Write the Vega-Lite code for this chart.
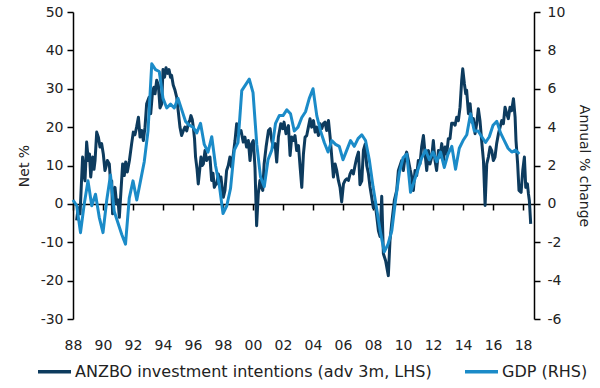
{
  "$schema": "https://vega.github.io/schema/vega-lite/v6.json",
  "width": 461,
  "height": 307,
  "autosize": {"type": "none"},
  "padding": {"left": 73, "top": 12, "right": 66, "bottom": 69},
  "background": "white",
  "config": {
    "font": "DejaVu Sans",
    "view": {"stroke": null},
    "axis": {
      "labelFont": "DejaVu Sans",
      "titleFont": "DejaVu Sans",
      "labelColor": "#222222",
      "titleColor": "#222222",
      "domainColor": "#000000",
      "tickColor": "#000000",
      "grid": false,
      "labelFontSize": 14,
      "titleFontSize": 14,
      "titleFontWeight": "normal",
      "domainWidth": 1.5,
      "tickWidth": 1.5
    }
  },
  "datasets": {
    "anzbo": [
      {"t": 1988.24, "v": -4.3}, {"t": 1988.35, "v": -1}, {"t": 1988.47, "v": -2.6}, {"t": 1988.64, "v": 12.2},
      {"t": 1988.72, "v": 8}, {"t": 1988.8, "v": 6}, {"t": 1988.91, "v": 16.1}, {"t": 1989.02, "v": 11.3},
      {"t": 1989.1, "v": 13}, {"t": 1989.18, "v": 7}, {"t": 1989.31, "v": 12.2}, {"t": 1989.4, "v": 9},
      {"t": 1989.47, "v": 11.3}, {"t": 1989.58, "v": 18.7}, {"t": 1989.69, "v": 17.4}, {"t": 1989.8, "v": 14.8},
      {"t": 1989.91, "v": 15.7}, {"t": 1990.02, "v": 13}, {"t": 1990.13, "v": 8.7}, {"t": 1990.22, "v": 10},
      {"t": 1990.29, "v": 11.3}, {"t": 1990.42, "v": 10.4}, {"t": 1990.51, "v": 5.2}, {"t": 1990.58, "v": 6},
      {"t": 1990.64, "v": -2.6}, {"t": 1990.72, "v": 2}, {"t": 1990.8, "v": 4.3}, {"t": 1990.91, "v": 0},
      {"t": 1991.0, "v": 1}, {"t": 1991.09, "v": -3.5}, {"t": 1991.2, "v": 3.5}, {"t": 1991.31, "v": 10.4},
      {"t": 1991.42, "v": 7.4}, {"t": 1991.51, "v": 10.9}, {"t": 1991.62, "v": 8.3}, {"t": 1991.76, "v": 11.3},
      {"t": 1991.91, "v": 15.7}, {"t": 1992.02, "v": 18.7}, {"t": 1992.13, "v": 18}, {"t": 1992.24, "v": 20},
      {"t": 1992.36, "v": 22.6}, {"t": 1992.47, "v": 17.4}, {"t": 1992.58, "v": 19.1}, {"t": 1992.69, "v": 16.5},
      {"t": 1992.8, "v": 20}, {"t": 1992.91, "v": 26.1}, {"t": 1993.07, "v": 27.8}, {"t": 1993.18, "v": 23.5},
      {"t": 1993.31, "v": 29.6}, {"t": 1993.4, "v": 30.4}, {"t": 1993.47, "v": 28.7}, {"t": 1993.58, "v": 32.2},
      {"t": 1993.69, "v": 31}, {"t": 1993.8, "v": 25}, {"t": 1993.91, "v": 26}, {"t": 1994.0, "v": 35},
      {"t": 1994.1, "v": 33}, {"t": 1994.2, "v": 35.5}, {"t": 1994.3, "v": 34}, {"t": 1994.4, "v": 35},
      {"t": 1994.5, "v": 33}, {"t": 1994.57, "v": 33.5}, {"t": 1994.68, "v": 31}, {"t": 1994.8, "v": 29.6},
      {"t": 1994.91, "v": 27.8}, {"t": 1995.02, "v": 24}, {"t": 1995.13, "v": 20}, {"t": 1995.24, "v": 17.8},
      {"t": 1995.35, "v": 19}, {"t": 1995.46, "v": 20}, {"t": 1995.58, "v": 19}, {"t": 1995.69, "v": 20.9},
      {"t": 1995.8, "v": 22}, {"t": 1995.86, "v": 23}, {"t": 1995.95, "v": 22}, {"t": 1996.02, "v": 20},
      {"t": 1996.1, "v": 17}, {"t": 1996.17, "v": 12.2}, {"t": 1996.27, "v": 9}, {"t": 1996.35, "v": 5.2},
      {"t": 1996.45, "v": 9}, {"t": 1996.53, "v": 12.2}, {"t": 1996.62, "v": 10}, {"t": 1996.69, "v": 10.4},
      {"t": 1996.8, "v": 13.9}, {"t": 1996.91, "v": 11.3}, {"t": 1997.02, "v": 12}, {"t": 1997.13, "v": 12.2},
      {"t": 1997.24, "v": 6.1}, {"t": 1997.33, "v": 8}, {"t": 1997.42, "v": 4.3}, {"t": 1997.5, "v": 5},
      {"t": 1997.57, "v": 5.2}, {"t": 1997.69, "v": 7.8}, {"t": 1997.78, "v": 6}, {"t": 1997.86, "v": 7},
      {"t": 1998.02, "v": 1.7}, {"t": 1998.13, "v": 3.5}, {"t": 1998.24, "v": 8.7}, {"t": 1998.35, "v": 10},
      {"t": 1998.46, "v": 12.2}, {"t": 1998.57, "v": 9.6}, {"t": 1998.69, "v": 13}, {"t": 1998.8, "v": 16.5},
      {"t": 1998.91, "v": 20.9}, {"t": 1999.0, "v": 19}, {"t": 1999.06, "v": 18.3}, {"t": 1999.2, "v": 19.1},
      {"t": 1999.35, "v": 16.1}, {"t": 1999.46, "v": 17.4}, {"t": 1999.57, "v": 14.8}, {"t": 1999.69, "v": 16.5},
      {"t": 1999.8, "v": 11.3}, {"t": 1999.91, "v": 15.7}, {"t": 2000.02, "v": 16.5}, {"t": 2000.13, "v": 9.6},
      {"t": 2000.24, "v": -5.7}, {"t": 2000.35, "v": 2.6}, {"t": 2000.46, "v": 6.1}, {"t": 2000.57, "v": 4.3},
      {"t": 2000.65, "v": 3.5}, {"t": 2000.74, "v": 10.4}, {"t": 2000.87, "v": 14.8}, {"t": 2001.03, "v": 19.1},
      {"t": 2001.14, "v": 19.6}, {"t": 2001.25, "v": 16.5}, {"t": 2001.36, "v": 14.8}, {"t": 2001.47, "v": 15.7},
      {"t": 2001.58, "v": 10.9}, {"t": 2001.69, "v": 17.4}, {"t": 2001.85, "v": 20.9}, {"t": 2001.98, "v": 19.6},
      {"t": 2002.07, "v": 21.3}, {"t": 2002.2, "v": 18.3}, {"t": 2002.36, "v": 20.4}, {"t": 2002.47, "v": 12.6},
      {"t": 2002.58, "v": 17.4}, {"t": 2002.69, "v": 16.5}, {"t": 2002.8, "v": 17.8}, {"t": 2002.91, "v": 13.9},
      {"t": 2003.03, "v": 15.2}, {"t": 2003.14, "v": 9.6}, {"t": 2003.25, "v": 4.3}, {"t": 2003.36, "v": 13},
      {"t": 2003.47, "v": 17.4}, {"t": 2003.58, "v": 17.8}, {"t": 2003.69, "v": 20}, {"t": 2003.8, "v": 22.2},
      {"t": 2003.91, "v": 20}, {"t": 2004.03, "v": 21.7}, {"t": 2004.14, "v": 18.7}, {"t": 2004.25, "v": 20},
      {"t": 2004.36, "v": 17.8}, {"t": 2004.47, "v": 20.9}, {"t": 2004.58, "v": 19.6}, {"t": 2004.69, "v": 20.9},
      {"t": 2004.8, "v": 21.3}, {"t": 2004.91, "v": 19.1}, {"t": 2005.03, "v": 21.7}, {"t": 2005.14, "v": 17.4},
      {"t": 2005.25, "v": 12.2}, {"t": 2005.36, "v": 7}, {"t": 2005.47, "v": 10.4}, {"t": 2005.58, "v": 8.7},
      {"t": 2005.69, "v": 6.1}, {"t": 2005.8, "v": 4.3}, {"t": 2005.91, "v": 0.5}, {"t": 2006.03, "v": 5.2},
      {"t": 2006.14, "v": 6.1}, {"t": 2006.25, "v": 6.5}, {"t": 2006.36, "v": 6.1}, {"t": 2006.47, "v": 7.8},
      {"t": 2006.58, "v": 8.7}, {"t": 2006.69, "v": 7.8}, {"t": 2006.8, "v": 10}, {"t": 2006.91, "v": 12},
      {"t": 2007.03, "v": 13.5}, {"t": 2007.13, "v": 5}, {"t": 2007.25, "v": 6}, {"t": 2007.36, "v": 14},
      {"t": 2007.47, "v": 15.5}, {"t": 2007.58, "v": 10}, {"t": 2007.69, "v": 8}, {"t": 2007.8, "v": 4.4},
      {"t": 2007.9, "v": 2}, {"t": 2008.02, "v": -1}, {"t": 2008.13, "v": 0.5}, {"t": 2008.24, "v": -3},
      {"t": 2008.36, "v": -7}, {"t": 2008.47, "v": -8.5}, {"t": 2008.58, "v": 2}, {"t": 2008.69, "v": -13},
      {"t": 2008.84, "v": -14.8}, {"t": 2009.02, "v": -18.7}, {"t": 2009.13, "v": -9.6}, {"t": 2009.24, "v": -5.2},
      {"t": 2009.42, "v": 0.9}, {"t": 2009.58, "v": 3.5}, {"t": 2009.69, "v": 8.7}, {"t": 2009.91, "v": 11.3},
      {"t": 2010.02, "v": 8.7}, {"t": 2010.13, "v": 12}, {"t": 2010.24, "v": 13.5}, {"t": 2010.36, "v": 11.3},
      {"t": 2010.47, "v": 9}, {"t": 2010.58, "v": 7}, {"t": 2010.69, "v": 3.5}, {"t": 2010.8, "v": 8.7},
      {"t": 2010.91, "v": 7.4}, {"t": 2011.02, "v": 11.3}, {"t": 2011.13, "v": 10.4}, {"t": 2011.24, "v": 14.8},
      {"t": 2011.36, "v": 17.8}, {"t": 2011.47, "v": 13}, {"t": 2011.58, "v": 8.7}, {"t": 2011.69, "v": 13.9},
      {"t": 2011.8, "v": 10.4}, {"t": 2011.91, "v": 12.2}, {"t": 2012.02, "v": 16.5}, {"t": 2012.13, "v": 11.3},
      {"t": 2012.24, "v": 8.7}, {"t": 2012.36, "v": 13.9}, {"t": 2012.47, "v": 12.2}, {"t": 2012.58, "v": 15.7},
      {"t": 2012.69, "v": 11.3}, {"t": 2012.8, "v": 14.8}, {"t": 2012.91, "v": 13}, {"t": 2013.02, "v": 17},
      {"t": 2013.13, "v": 17}, {"t": 2013.24, "v": 21}, {"t": 2013.36, "v": 21}, {"t": 2013.47, "v": 20.5},
      {"t": 2013.58, "v": 22.6}, {"t": 2013.69, "v": 21.7}, {"t": 2013.8, "v": 25.2}, {"t": 2013.91, "v": 32.2},
      {"t": 2013.98, "v": 35.2}, {"t": 2014.09, "v": 31.3}, {"t": 2014.18, "v": 28.7}, {"t": 2014.24, "v": 29.6},
      {"t": 2014.36, "v": 23.5}, {"t": 2014.47, "v": 26.1}, {"t": 2014.58, "v": 21.3}, {"t": 2014.69, "v": 22.2},
      {"t": 2014.8, "v": 18.3}, {"t": 2014.91, "v": 20.9}, {"t": 2015.02, "v": 24.8}, {"t": 2015.13, "v": 21.7},
      {"t": 2015.24, "v": 16.5}, {"t": 2015.36, "v": 11.3}, {"t": 2015.47, "v": -0.4}, {"t": 2015.58, "v": 10.4},
      {"t": 2015.69, "v": 12.2}, {"t": 2015.8, "v": 14.8}, {"t": 2015.91, "v": 13.9}, {"t": 2016.02, "v": 11.3},
      {"t": 2016.13, "v": 12.2}, {"t": 2016.24, "v": 15.7}, {"t": 2016.36, "v": 18.3}, {"t": 2016.47, "v": 20},
      {"t": 2016.58, "v": 21.7}, {"t": 2016.69, "v": 20.9}, {"t": 2016.8, "v": 25.2}, {"t": 2016.91, "v": 23.5},
      {"t": 2017.02, "v": 22.2}, {"t": 2017.13, "v": 25.2}, {"t": 2017.24, "v": 24.3}, {"t": 2017.36, "v": 27.4},
      {"t": 2017.47, "v": 22.6}, {"t": 2017.53, "v": 16.5}, {"t": 2017.64, "v": 10.4}, {"t": 2017.73, "v": 3.5},
      {"t": 2017.87, "v": 3}, {"t": 2017.98, "v": 8.7}, {"t": 2018.09, "v": 12.2}, {"t": 2018.18, "v": 4.3},
      {"t": 2018.29, "v": 5.2}, {"t": 2018.36, "v": 2.6}, {"t": 2018.42, "v": 0.9}, {"t": 2018.51, "v": -5.2}
    ],
    "gdp": [
      {"t": 1988.0, "v": 0.2}, {"t": 1988.25, "v": -0.1}, {"t": 1988.5, "v": -1.5}, {"t": 1988.75, "v": 0.0},
      {"t": 1989.0, "v": 1.2}, {"t": 1989.25, "v": -0.1}, {"t": 1989.5, "v": 0.5}, {"t": 1989.75, "v": -0.7},
      {"t": 1990.0, "v": -1.5}, {"t": 1990.25, "v": 0.2}, {"t": 1990.5, "v": 1.5}, {"t": 1990.75, "v": -0.4},
      {"t": 1991.0, "v": -1.0}, {"t": 1991.25, "v": -1.6}, {"t": 1991.5, "v": -2.1}, {"t": 1991.75, "v": 0.3},
      {"t": 1992.0, "v": 1.2}, {"t": 1992.25, "v": 0.2}, {"t": 1992.5, "v": 1.2}, {"t": 1992.75, "v": 2.2},
      {"t": 1993.0, "v": 3.8}, {"t": 1993.25, "v": 7.3}, {"t": 1993.5, "v": 7.0}, {"t": 1993.75, "v": 6.9},
      {"t": 1994.0, "v": 5.5}, {"t": 1994.25, "v": 5.0}, {"t": 1994.5, "v": 5.2}, {"t": 1994.75, "v": 5.0},
      {"t": 1995.0, "v": 5.5}, {"t": 1995.25, "v": 4.9}, {"t": 1995.5, "v": 4.3}, {"t": 1995.75, "v": 4.1},
      {"t": 1996.0, "v": 4.0}, {"t": 1996.25, "v": 3.7}, {"t": 1996.5, "v": 4.2}, {"t": 1996.75, "v": 3.1},
      {"t": 1997.0, "v": 2.7}, {"t": 1997.25, "v": 3.5}, {"t": 1997.5, "v": 2.0}, {"t": 1997.75, "v": 1.0},
      {"t": 1998.0, "v": -0.5}, {"t": 1998.25, "v": -0.1}, {"t": 1998.5, "v": 0.8}, {"t": 1998.75, "v": 2.8},
      {"t": 1999.0, "v": 3.2}, {"t": 1999.25, "v": 5.9}, {"t": 1999.5, "v": 6.2}, {"t": 1999.75, "v": 6.5},
      {"t": 2000.0, "v": 5.8}, {"t": 2000.25, "v": 3.1}, {"t": 2000.5, "v": 1.4}, {"t": 2000.75, "v": 0.9},
      {"t": 2001.0, "v": 2.3}, {"t": 2001.25, "v": 2.8}, {"t": 2001.5, "v": 4.2}, {"t": 2001.75, "v": 4.6},
      {"t": 2002.0, "v": 4.6}, {"t": 2002.25, "v": 4.9}, {"t": 2002.5, "v": 4.7}, {"t": 2002.75, "v": 3.8},
      {"t": 2003.0, "v": 4.0}, {"t": 2003.25, "v": 4.5}, {"t": 2003.5, "v": 4.8}, {"t": 2003.75, "v": 5.5},
      {"t": 2004.0, "v": 6.0}, {"t": 2004.25, "v": 4.6}, {"t": 2004.5, "v": 3.8}, {"t": 2004.75, "v": 3.2},
      {"t": 2005.0, "v": 2.7}, {"t": 2005.25, "v": 3.3}, {"t": 2005.5, "v": 3.1}, {"t": 2005.75, "v": 3.0},
      {"t": 2006.0, "v": 2.3}, {"t": 2006.25, "v": 2.8}, {"t": 2006.5, "v": 3.3}, {"t": 2006.75, "v": 3.0},
      {"t": 2007.0, "v": 3.4}, {"t": 2007.25, "v": 3.6}, {"t": 2007.5, "v": 3.3}, {"t": 2007.75, "v": 2.3},
      {"t": 2008.0, "v": 0.9}, {"t": 2008.25, "v": -0.3}, {"t": 2008.5, "v": -1.5}, {"t": 2008.75, "v": -2.5},
      {"t": 2009.0, "v": -2.1}, {"t": 2009.25, "v": -1.4}, {"t": 2009.5, "v": 0.2}, {"t": 2009.75, "v": 1.6},
      {"t": 2010.0, "v": 2.4}, {"t": 2010.25, "v": 2.6}, {"t": 2010.5, "v": 0.6}, {"t": 2010.75, "v": 1.2},
      {"t": 2011.0, "v": 1.8}, {"t": 2011.25, "v": 2.4}, {"t": 2011.5, "v": 2.8}, {"t": 2011.75, "v": 2.3},
      {"t": 2012.0, "v": 2.7}, {"t": 2012.25, "v": 2.2}, {"t": 2012.5, "v": 2.7}, {"t": 2012.75, "v": 1.9},
      {"t": 2013.0, "v": 2.6}, {"t": 2013.25, "v": 3.0}, {"t": 2013.5, "v": 1.8}, {"t": 2013.75, "v": 2.9},
      {"t": 2014.0, "v": 3.3}, {"t": 2014.25, "v": 3.6}, {"t": 2014.5, "v": 4.7}, {"t": 2014.75, "v": 3.8},
      {"t": 2015.0, "v": 3.8}, {"t": 2015.25, "v": 3.5}, {"t": 2015.5, "v": 3.2}, {"t": 2015.75, "v": 3.5},
      {"t": 2016.0, "v": 4.1}, {"t": 2016.25, "v": 4.3}, {"t": 2016.5, "v": 3.7}, {"t": 2016.75, "v": 3.3},
      {"t": 2017.0, "v": 2.9}, {"t": 2017.25, "v": 2.7}, {"t": 2017.5, "v": 2.8}, {"t": 2017.75, "v": 2.6}
    ]
  },
  "layer": [
    {
      "data": {"name": "anzbo"},
      "mark": {"type": "line", "strokeWidth": 3, "strokeJoin": "round"},
      "encoding": {
        "x": {
          "field": "t", "type": "quantitative",
          "scale": {"domain": [1988, 2018.73], "nice": false, "zero": false},
          "axis": {
            "orient": "bottom",
            "values": [1988, 1990, 1992, 1994, 1996, 1998, 2000, 2002, 2004, 2006, 2008, 2010, 2012, 2014, 2016, 2018],
            "labelExpr": "slice(toString(datum.value), 2)",
            "domain": false, "ticks": false, "labelPadding": 19, "title": null,
            "labelFontSize": 14, "labelFlush": false, "labelOverlap": false
          }
        },
        "y": {
          "field": "v", "type": "quantitative",
          "scale": {"domain": [-30, 50], "nice": false, "zero": false},
          "axis": {
            "orient": "left",
            "values": [-30, -20, -10, 0, 10, 20, 30, 40, 50],
            "labelExpr": "toString(datum.value)",
            "title": "Net %", "tickSize": 6, "labelPadding": 4, "titlePadding": 9
          }
        },
        "color": {
          "datum": "ANZBO investment intentions (adv 3m, LHS)", "type": "nominal",
          "scale": {
            "domain": ["ANZBO investment intentions (adv 3m, LHS)", "GDP (RHS)"],
            "range": ["#0d3b5e", "#1b8bc8"]
          },
          "legend": {
            "orient": "none", "legendX": -37, "legendY": 341, "direction": "horizontal",
            "title": null, "symbolType": "stroke", "symbolSize": 1089, "symbolStrokeWidth": 3.5,
            "labelFontSize": 16, "labelOffset": 2, "columnPadding": 26, "labelColor": "#222222",
            "labelFont": "DejaVu Sans", "labelLimit": 600
          }
        }
      }
    },
    {
      "data": {"name": "gdp"},
      "mark": {"type": "line", "strokeWidth": 3, "strokeJoin": "round"},
      "encoding": {
        "x": {
          "field": "t", "type": "quantitative",
          "axis": {
            "orient": "bottom",
            "values": [1988, 1990, 1992, 1994, 1996, 1998, 2000, 2002, 2004, 2006, 2008, 2010, 2012, 2014, 2016, 2018],
            "labels": false, "domain": true, "ticks": true, "tickSize": 6, "offset": -115, "title": null
          }
        },
        "y": {
          "field": "v", "type": "quantitative",
          "scale": {"domain": [-6, 10], "nice": false, "zero": false},
          "axis": {
            "orient": "right",
            "values": [-6, -4, -2, 0, 2, 4, 6, 8, 10],
            "labelExpr": "toString(datum.value)",
            "title": "Annual % change", "tickSize": 6, "labelPadding": 7, "titlePadding": 12
          }
        },
        "color": {"datum": "GDP (RHS)", "type": "nominal"}
      }
    }
  ],
  "resolve": {"scale": {"y": "independent"}, "axis": {"x": "independent"}}
}
